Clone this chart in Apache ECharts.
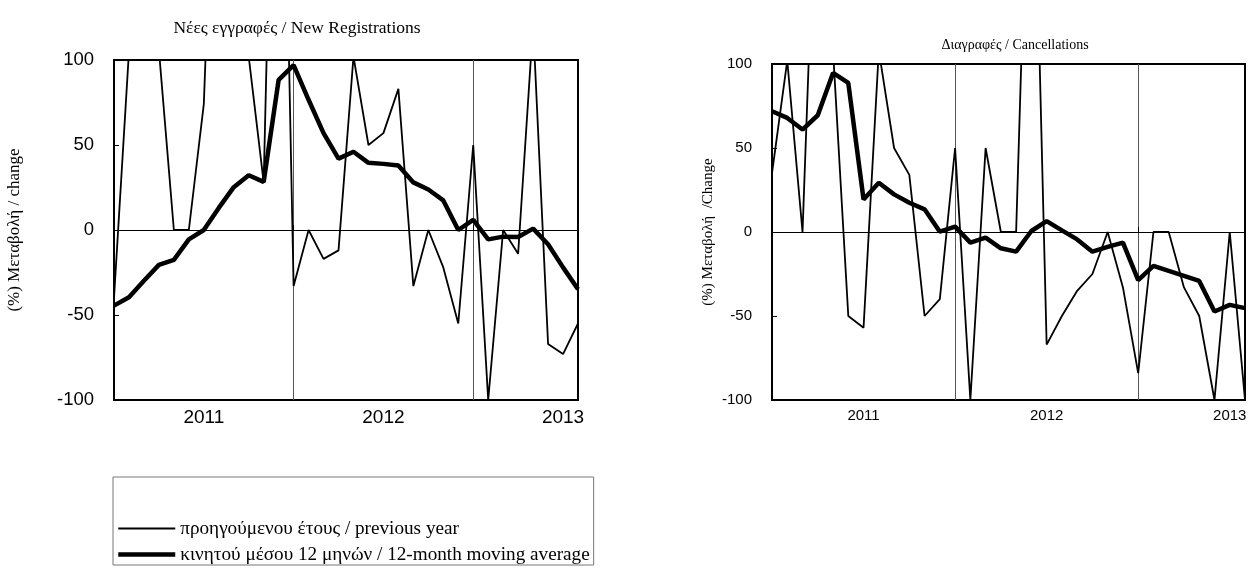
<!DOCTYPE html>
<html>
<head>
<meta charset="utf-8">
<script src="https://cdn.jsdelivr.net/npm/echarts@6/dist/echarts.min.js"></script>
<style>
html,body{margin:0;padding:0;background:#fff;}
#chart{width:1252px;height:568px;}
</style>
</head>
<body>
<div id="chart"></div>
<script>
// Months Jan 2011 .. Aug 2013
const months = ['2011-01','2011-02','2011-03','2011-04','2011-05','2011-06','2011-07','2011-08','2011-09','2011-10','2011-11','2011-12',
  '2012-01','2012-02','2012-03','2012-04','2012-05','2012-06','2012-07','2012-08','2012-09','2012-10','2012-11','2012-12',
  '2013-01','2013-02','2013-03','2013-04','2013-05','2013-06','2013-07','2013-08'];
// year labels shown at mid-year positions
const yearLabelIndex = [6, 18, 30];
const yearLabelText = ['2011', '2012', '2013'];
// year boundaries (vertical lines)
const yearBoundaryIndex = [12, 24];

// New registrations: % change vs previous year (values above 100 are off-scale)
const regPrevYear = [-40, 105, 300, 106, 0, 0, 74, 310, 300, 102, 28, 400, -33, 0, -17, -12,
  102, 50, 57, 83, -33, 0, -22, -55, 50, -100, 0, -14, 121, -67, -73, -55];
// New registrations: 12-month moving average
const regMovAvg = [-44.5, -39.6, -29.9, -20.5, -17.6, -5.5, 0, 13, 25.2, 32.2, 28.3, 88.3, 97, 76.6, 57, 42,
  46, 39.5, 38.9, 37.9, 28, 23.8, 17.4, 0, 5.9, -5.5, -3.9, -4.1, 0.8, -8.4, -22, -34.8];

// Cancellations: % change vs previous year
const canPrevYear = [35, 102, 0, 250, 108, -50, -57, 108, 50, 34, -50, -40, 50, -100, 50, 0,
  0, 300, -67, -50, -35, -25, 0, -33, -84, 0, 0, -33, -50, -100, 0, -100];
// Cancellations: 12-month moving average
const canMovAvg = [71.9, 67.9, 61, 69.5, 94.7, 88.7, 19.4, 29.3, 22.4, 17.4, 13.5, 0.2, 3.2, -6.3, -3.4, -9.7,
  -11.7, 0.6, 6.5, 1, -4.4, -11.7, -8.9, -6.3, -28.7, -20.2, -23.2, -26.1, -29.1, -47.3, -43.4, -45.3];

const yTicks = {min: -100, max: 100, interval: 50};

const titles = ['Νέες εγγραφές / New Registrations', 'Διαγραφές / Cancellations'];
const yNames = ['(%) Μεταβολή / change', '(%) Μεταβολή  /Change'];
const seriesNames = ['προηγούμενου έτους / previous year', 'κινητού μέσου 12 μηνών / 12-month moving average'];
const seriesWidths = [1.8, 4.5];

const SERIF = '"Liberation Serif", "Times New Roman", serif';
const SANS = '"Liberation Sans", Arial, sans-serif';

function xAxisFor(gi, fs) {
  return {
    type: 'category', gridIndex: gi, data: months, boundaryGap: false,
    axisLine: {show: false},
    axisTick: {show: true, inside: true, length: 5, lineStyle: {color: '#000'},
      interval: (i) => yearBoundaryIndex.indexOf(i) >= 0},
    axisLabel: {
      interval: (i) => yearLabelIndex.indexOf(i) >= 0,
      formatter: (v, i) => { const k = yearLabelIndex.indexOf(i); return k >= 0 ? yearLabelText[k] : ''; },
      fontFamily: SANS, fontSize: fs, color: '#000', margin: 8
    },
    splitLine: {show: true, interval: (i) => yearBoundaryIndex.indexOf(i) >= 0,
      lineStyle: {color: '#555', width: 1}}
  };
}
function yAxisFor(gi, name, gap, fs, nfs) {
  return {
    type: 'value', gridIndex: gi, min: yTicks.min, max: yTicks.max, interval: yTicks.interval,
    name: name, nameLocation: 'middle', nameGap: gap, nameRotate: 90,
    nameTextStyle: {fontFamily: SERIF, fontSize: nfs, color: '#000'},
    axisLine: {show: false},
    axisTick: {show: true, inside: true, length: 5, lineStyle: {color: '#000'}},
    axisLabel: {fontFamily: SANS, fontSize: fs, color: '#000', margin: 20},
    splitLine: {show: false}
  };
}
const zeroLine = {silent: true, symbol: 'none', label: {show: false},
  lineStyle: {color: '#000', width: 1, type: 'solid'}, data: [{yAxis: 0}]};

function thin(gi, data) {
  return {name: seriesNames[0], type: 'line', xAxisIndex: gi, yAxisIndex: gi, data: data,
    symbol: 'none', clip: true, lineStyle: {color: '#000', width: seriesWidths[0]}, itemStyle: {color: '#000'},
    markLine: zeroLine, z: 3};
}
function thick(gi, data) {
  return {name: seriesNames[1], type: 'line', xAxisIndex: gi, yAxisIndex: gi, data: data,
    symbol: 'none', clip: true, lineStyle: {color: '#000', width: seriesWidths[1]}, itemStyle: {color: '#000'}, z: 4};
}

const chart = echarts.init(document.getElementById('chart'), null, {renderer: 'canvas'});
chart.setOption({
  animation: false,
  backgroundColor: '#fff',
  title: [
    {text: titles[0], left: 292, top: 14, textAlign: 'center',
      textStyle: {fontFamily: SERIF, fontSize: 17.5, fontWeight: 'normal', color: '#000'}},
    {text: titles[1], left: 1010, top: 33, textAlign: 'center',
      textStyle: {fontFamily: SERIF, fontSize: 14, fontWeight: 'normal', color: '#000'}}
  ],
  grid: [
    {left: 114, top: 60, width: 464, height: 340, show: true, borderColor: '#000', borderWidth: 2, backgroundColor: 'transparent'},
    {left: 772, top: 64, width: 473, height: 336, show: true, borderColor: '#000', borderWidth: 2, backgroundColor: 'transparent'}
  ],
  xAxis: [xAxisFor(0, 19), xAxisFor(1, 15)],
  yAxis: [yAxisFor(0, yNames[0], 91, 18.5, 17), yAxisFor(1, yNames[1], 56, 15, 15)],
  legend: {
    orient: 'vertical', left: 113, top: 477, height: 140,
    data: seriesNames.map((n, i) => ({name: n, lineStyle: {width: seriesWidths[i], color: '#000'}})),
    itemWidth: 57, itemHeight: 14, itemGap: 7,
    padding: [42, 4, 1, 3],
    borderColor: '#777', borderWidth: 1,
    itemStyle: {color: 'rgba(0,0,0,0)', borderColor: 'rgba(0,0,0,0)', borderWidth: 0, opacity: 0},
    textStyle: {fontFamily: SERIF, fontSize: 19.2, color: '#000'},
    selectedMode: false
  },
  series: [thin(0, regPrevYear), thick(0, regMovAvg), thin(1, canPrevYear), thick(1, canMovAvg)]
});
</script>
</body>
</html>
